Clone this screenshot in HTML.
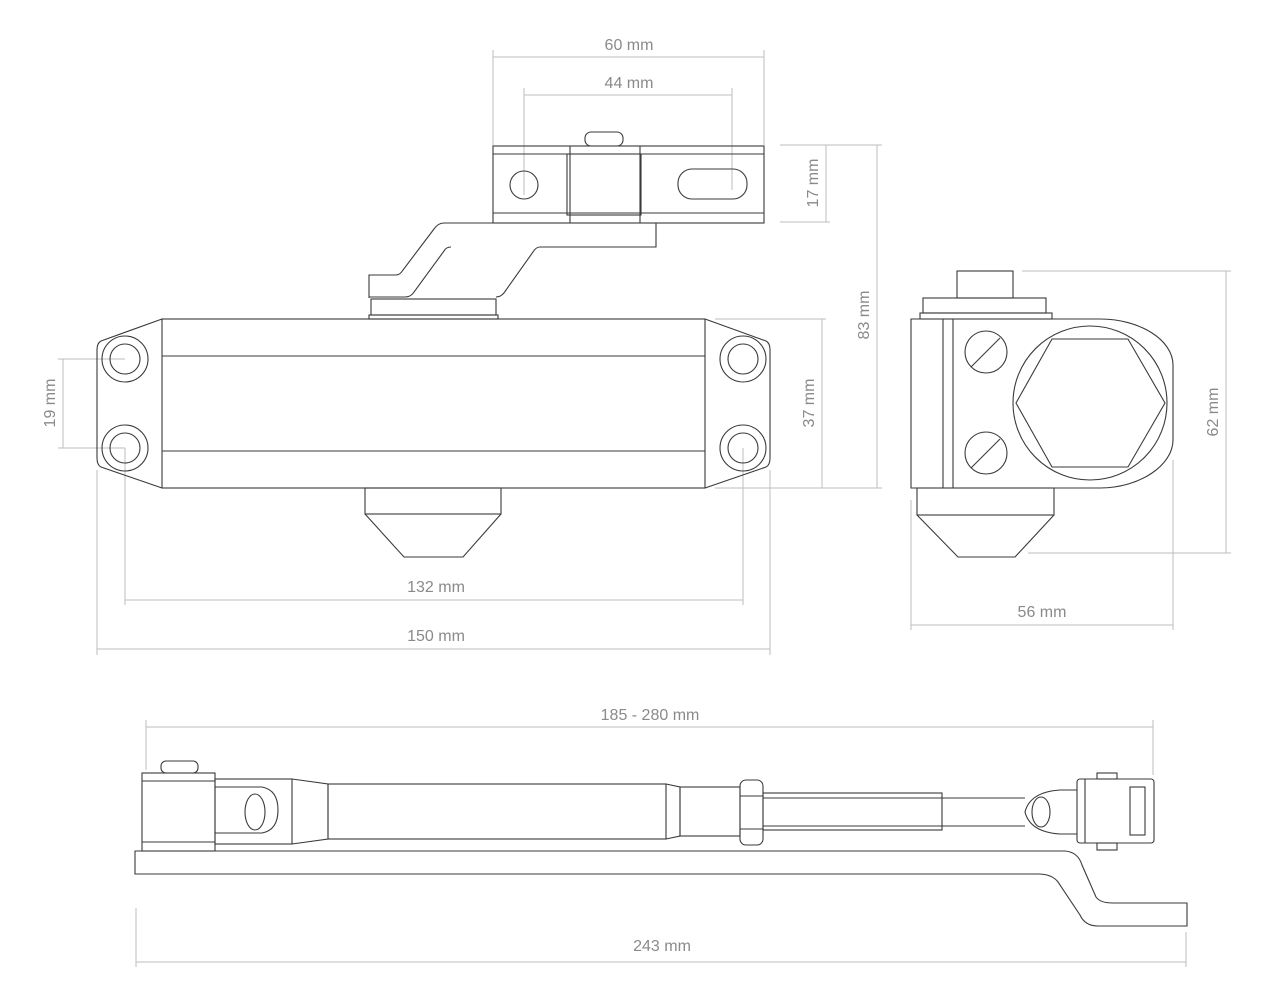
<!DOCTYPE html>
<html><head><meta charset="utf-8"><style>html,body{margin:0;padding:0;background:#fff}svg{display:block}</style></head><body>
<svg width="1273" height="1000" viewBox="0 0 1273 1000" xmlns="http://www.w3.org/2000/svg">
<g stroke="#bdbdbd" stroke-width="1" fill="none">
<!-- top dims -->
<line x1="493" y1="57" x2="764" y2="57"/><line x1="493" y1="50" x2="493" y2="145"/><line x1="764" y1="50" x2="764" y2="145"/>
<line x1="524" y1="95" x2="732" y2="95"/><line x1="524" y1="88" x2="524" y2="195"/><line x1="732" y1="88" x2="732" y2="190"/>
<line x1="826" y1="145" x2="826" y2="222"/><line x1="780" y1="145" x2="882" y2="145"/><line x1="780" y1="222" x2="830" y2="222"/>
<line x1="877" y1="145" x2="877" y2="488"/><line x1="715" y1="488" x2="882" y2="488"/>
<line x1="822" y1="319" x2="822" y2="488"/><line x1="715" y1="319" x2="826" y2="319"/>
<line x1="63" y1="359" x2="63" y2="448"/><line x1="58" y1="359" x2="125" y2="359"/><line x1="58" y1="448" x2="125" y2="448"/>
<line x1="125" y1="600" x2="743" y2="600"/><line x1="125" y1="448" x2="125" y2="605"/><line x1="743" y1="448" x2="743" y2="605"/>
<line x1="97" y1="649" x2="770" y2="649"/><line x1="97" y1="470" x2="97" y2="655"/><line x1="770" y1="470" x2="770" y2="655"/>
<!-- side dims -->
<line x1="1226" y1="271" x2="1226" y2="553"/><line x1="1022" y1="271" x2="1231" y2="271"/><line x1="1028" y1="553" x2="1231" y2="553"/>
<line x1="911" y1="625" x2="1173" y2="625"/><line x1="911" y1="500" x2="911" y2="630"/><line x1="1173" y1="460" x2="1173" y2="630"/>
<!-- bottom dims -->
<line x1="146" y1="727" x2="1153" y2="727"/><line x1="146" y1="720" x2="146" y2="770"/><line x1="1153" y1="720" x2="1153" y2="775"/>
<line x1="136" y1="962" x2="1186" y2="962"/><line x1="136" y1="908" x2="136" y2="967"/><line x1="1186" y1="932" x2="1186" y2="967"/>
</g>
<g fill="#8a8a8a" font-family="Liberation Sans, sans-serif" font-size="16" text-anchor="middle">
<text x="629" y="50">60 mm</text><text x="629" y="88">44 mm</text>
<text transform="translate(818,183) rotate(-90)">17 mm</text>
<text transform="translate(869,315) rotate(-90)">83 mm</text>
<text transform="translate(814,403) rotate(-90)">37 mm</text>
<text transform="translate(55,403) rotate(-90)">19 mm</text>
<text x="436" y="592">132 mm</text><text x="436" y="641">150 mm</text>
<text transform="translate(1218,412) rotate(-90)">62 mm</text>
<text x="1042" y="617">56 mm</text>
<text x="650" y="720">185 - 280 mm</text><text x="662" y="951">243 mm</text>
</g>
<g stroke="#3a3a3a" stroke-width="1.1" fill="none">
<!-- top view bracket -->
<rect x="585" y="132" width="38" height="14" rx="6"/>
<rect x="493" y="146" width="271" height="77"/>
<line x1="493" y1="154" x2="764" y2="154"/><line x1="493" y1="213" x2="764" y2="213"/>
<rect x="567" y="154" width="74" height="61"/>
<line x1="570" y1="146" x2="570" y2="223"/><line x1="640" y1="146" x2="640" y2="223"/>
<ellipse cx="524" cy="185" rx="14" ry="14"/>
<rect x="678" y="169" width="69" height="30" rx="14"/>
<path d="M369,298 L369,275 L396,275 Q400,275 403,270 L434,229 Q438,223 444,223 L656,223 L656,247 L540,247 Q536,247 533,252 L506,290 Q502,297 496,297"/>
<path d="M451,247 Q446,247 444,251 L414,292 Q411,297 405,297 L369,297"/>
<rect x="371" y="299" width="125" height="16"/>
<rect x="369" y="315" width="129" height="4"/>
<rect x="162" y="319" width="543" height="169"/>
<line x1="162" y1="356" x2="705" y2="356"/><line x1="162" y1="451" x2="705" y2="451"/>
<path d="M162,319 L101,341 Q97,343 97,350 L97,458 Q97,465 101,467 L162,488"/>
<path d="M705,319 L766,341 Q770,343 770,350 L770,458 Q770,465 766,467 L705,488"/>
<circle cx="125" cy="359" r="23"/><circle cx="125" cy="359" r="15"/>
<circle cx="125" cy="448" r="23"/><circle cx="125" cy="448" r="15"/>
<circle cx="743" cy="359" r="23"/><circle cx="743" cy="359" r="15"/>
<circle cx="743" cy="448" r="23"/><circle cx="743" cy="448" r="15"/>
<rect x="365" y="488" width="136" height="26"/>
<path d="M365,514 L404,557 L463,557 L501,514"/>
<!-- side view -->
<rect x="957" y="271" width="56" height="27"/>
<rect x="923" y="298" width="123" height="15"/>
<rect x="920" y="313" width="132" height="6"/>
<path d="M911,319 L1100,319 C1140,319 1173,340 1173,365 L1173,440 C1173,465 1140,488 1100,488 L911,488 Z"/>
<line x1="943" y1="319" x2="943" y2="488"/><line x1="953" y1="319" x2="953" y2="488"/>
<circle cx="1090" cy="403" r="77"/>
<polygon points="1016,403 1052,339 1128,339 1165,403 1128,467 1052,467"/>
<circle cx="986" cy="352" r="21"/><line x1="971" y1="367" x2="1000" y2="338"/>
<circle cx="986" cy="453" r="21"/><line x1="971" y1="468" x2="1000" y2="439"/>
<rect x="917" y="488" width="137" height="27"/>
<path d="M917,515 L958,557 L1015,557 L1054,515"/>
<!-- bottom view -->
<rect x="161" y="761" width="37" height="12" rx="5"/>
<rect x="142" y="773" width="73" height="78"/>
<line x1="142" y1="781" x2="215" y2="781"/><line x1="142" y1="842" x2="215" y2="842"/>
<rect x="215" y="779" width="77" height="65"/>
<path d="M215,787 L262,787 Q278,790 278,810 Q278,830 262,833 L215,833"/>
<ellipse cx="255" cy="812" rx="10" ry="18"/>
<path d="M292,779 L328,784 L328,839 L292,844"/>
<rect x="328" y="784" width="338" height="55"/>
<path d="M666,784 L680,787 L680,836 L666,839"/>
<rect x="680" y="787" width="60" height="49"/>
<rect x="740" y="780" width="23" height="65" rx="6"/>
<line x1="740" y1="796" x2="763" y2="796"/><line x1="740" y1="829" x2="763" y2="829"/>
<rect x="763" y="793" width="179" height="37"/>
<line x1="763" y1="798" x2="1025" y2="798"/><line x1="763" y1="826" x2="1025" y2="826"/>
<path d="M1077,790 L1060,790 Q1030,792 1025,812 Q1030,832 1060,834 L1077,834"/>
<ellipse cx="1041" cy="812" rx="9" ry="15"/>
<rect x="1077" y="779" width="77" height="64" rx="3"/>
<rect x="1130" y="787" width="15" height="48"/>
<line x1="1085" y1="779" x2="1085" y2="843"/>
<rect x="1097" y="773" width="20" height="6"/><rect x="1097" y="843" width="20" height="7"/>
<path d="M135,851 L1065,851 Q1078,852 1082,865 L1096,897 Q1100,903 1113,903 L1187,903 L1187,926 L1098,926 Q1085,926 1080,915 L1058,882 Q1052,874 1038,874 L135,874 Z"/>
</g>
</svg>
</body></html>
